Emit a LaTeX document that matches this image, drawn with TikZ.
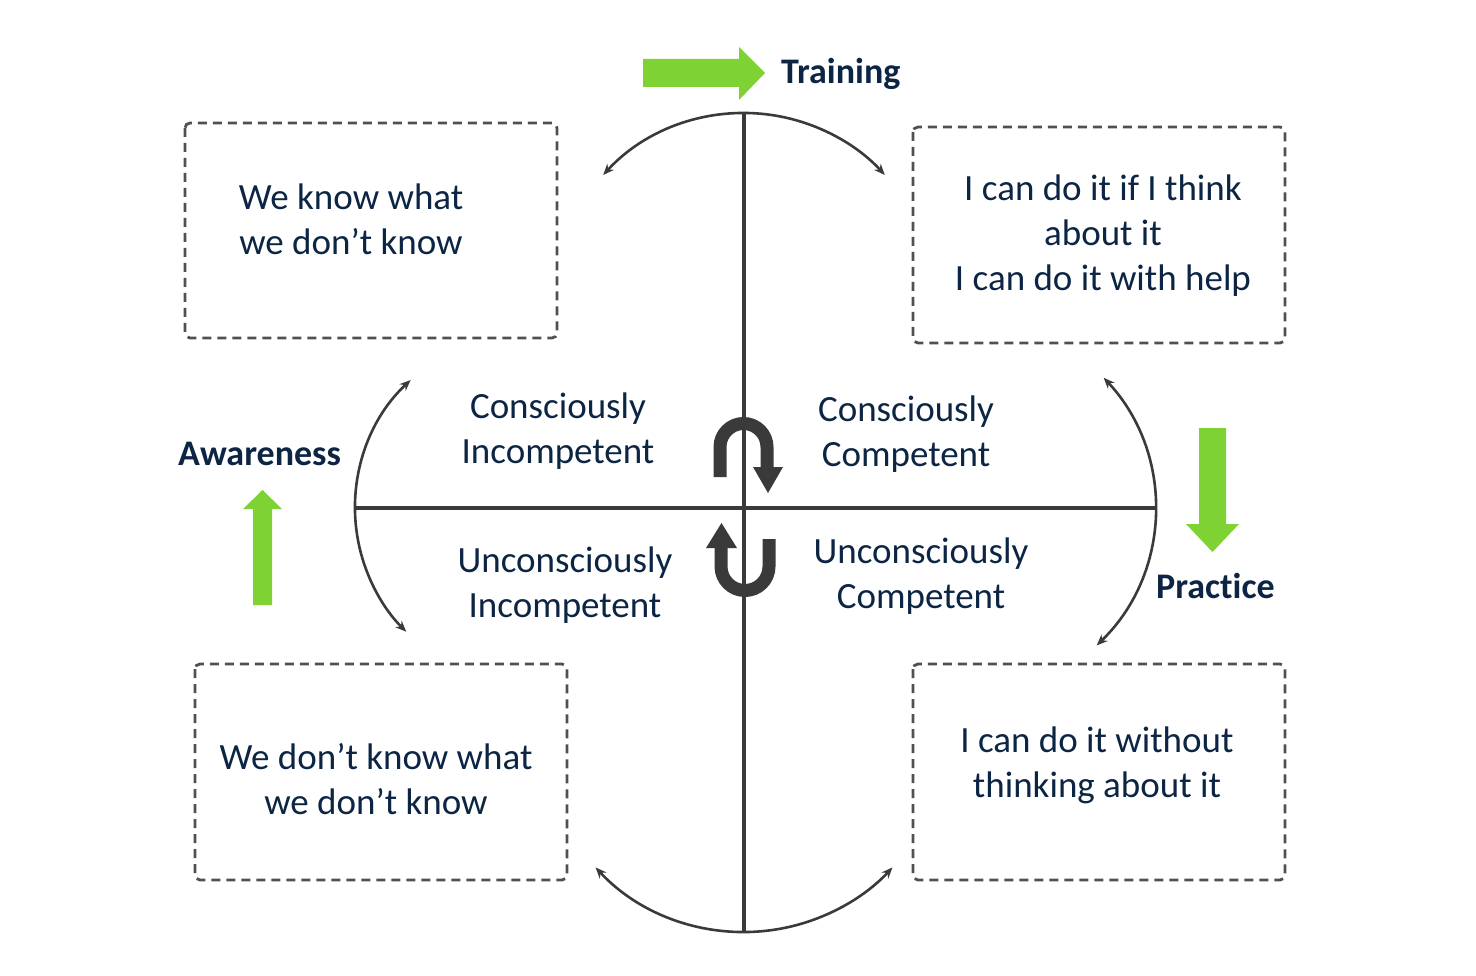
\documentclass[tikz,border=0pt]{standalone}
\usepackage{fontspec}
\setmainfont{Carlito}[Ligatures=NoCommon]
\usetikzlibrary{arrows.meta}
\definecolor{navy}{HTML}{0C2544}
\definecolor{lgreen}{HTML}{7ED234}
\definecolor{dgray}{HTML}{3A3A3A}
\definecolor{bgray}{HTML}{505050}
\tikzset{
  txt/.style={text=navy, font=\fontsize{37}{45}\selectfont, align=center, inner sep=0pt},
  lbl/.style={text=navy, font=\fontsize{36}{45}\selectfont\bfseries, inner sep=0pt},
  dbox/.style={draw=bgray, line width=2.8pt, dash pattern=on 9pt off 6pt, rounded corners=5pt},
  axis/.style={draw=dgray, line width=3.5pt},
  arcline/.style={draw=dgray, line width=2.6pt, {Stealth[length=11pt,width=9pt]}-{Stealth[length=11pt,width=9pt]}},
  uturn/.style={draw=dgray, line width=13pt},
  garrow/.style={fill=lgreen, draw=none}
}
\begin{document}
\begin{tikzpicture}[x=1pt,y=-1pt]
\useasboundingbox (0,0) rectangle (1476,976);
% axes
\coordinate (vt) at (744,113);
\coordinate (vb) at (744,932);
\coordinate (hl) at (355,508);
\coordinate (hr) at (1155,508);
\draw[axis] (vt) -- (vb);
\draw[axis] (hl) -- (hr);
% arcs
\draw[arcline] (744,304) ++(222.5:191) arc[start angle=222.5, end angle=317.5, radius=191];
\draw[arcline] (530,508) ++(227:175) arc[start angle=227, end angle=135, radius=175];
\draw[arcline] (964,508) ++(-43:191) arc[start angle=-43, end angle=46, radius=191];
\draw[arcline] (744,729) ++(137:203) arc[start angle=137, end angle=43, radius=203];
% U-turn arrows
\draw[uturn] (720,477) -- (720,447) arc[start angle=180, end angle=360, radius=23.5] -- (767,467);
\fill[dgray] (753,467) -- (783,467) -- (768,493) -- cycle;
\draw[uturn] (769,539) -- (769,566.5) arc[start angle=0, end angle=180, radius=24] -- (721,547);
\fill[dgray] (706,548) -- (737,548) -- (721.5,523) -- cycle;
% green arrows
\fill[garrow] (643,59) -- (739,59) -- (739,47) -- (765,73) -- (739,100) -- (739,87) -- (643,87) -- cycle;
\fill[garrow] (253,605) -- (253,509) -- (243,509) -- (262.5,490) -- (282,509) -- (272,509) -- (272,605) -- cycle;
\fill[garrow] (1199,428) -- (1226,428) -- (1226,524) -- (1239,524) -- (1212.5,552) -- (1186,524) -- (1199,524) -- cycle;
% labels
\node[lbl, anchor=west] (training) at (781,74) {Training};
\node[lbl, anchor=west] (awareness) at (178,454) {Awareness};
\node[lbl, anchor=west] (practice) at (1156,586) {Practice};
% quadrant texts
\node[txt] (ci) at (558,431) {Consciously\\Incompetent};
\node[txt] (cc) at (906,434) {Consciously\\Competent};
\node[txt] (ui) at (565,585) {Unconsciously\\Incompetent};
\node[txt] (uc) at (921,576) {Unconsciously\\Competent};
% boxes
\draw[dbox] (185,123) rectangle (557,338);
\draw[dbox] (913,127) rectangle (1285,343);
\draw[dbox] (195,664) rectangle (567,880);
\draw[dbox] (913,664) rectangle (1285,880);
\node[txt] (b1) at (351,219) {We know what\\we don’t know};
\node[txt] (b2) at (1103,236) {I can do it if I think\\about it\\I can do it with help};
\node[txt] (b3) at (376,779) {We don’t know what\\we don’t know};
\node[txt] (b4) at (1097,765) {I can do it without\\thinking about it};
\end{tikzpicture}
\end{document}
